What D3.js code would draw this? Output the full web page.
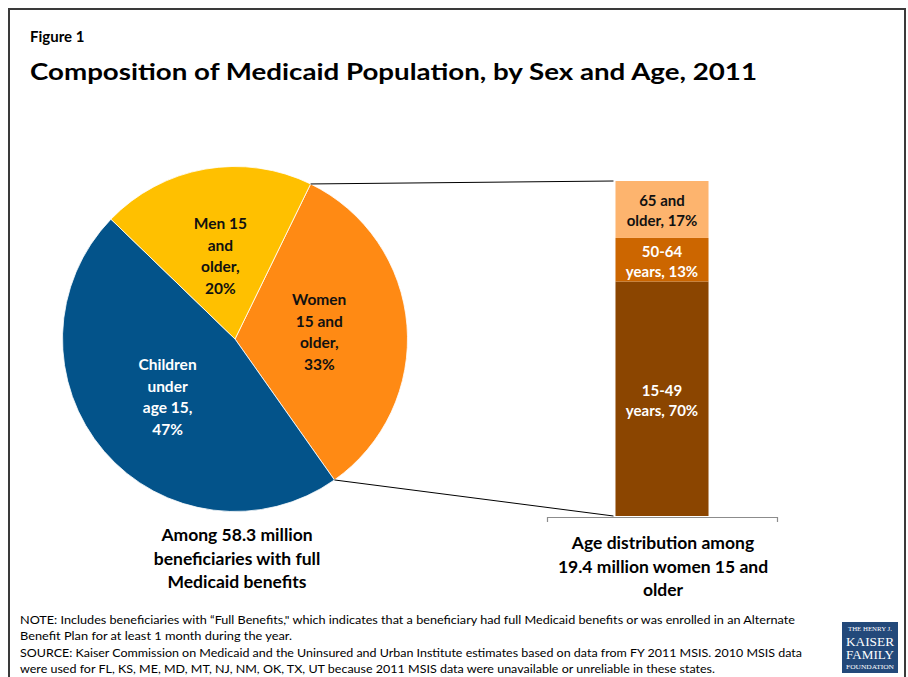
<!DOCTYPE html>
<html>
<head>
<meta charset="utf-8">
<script src="https://cdn.jsdelivr.net/npm/d3@7"></script>
<style>
  html, body { margin: 0; padding: 0; background: #fff; }
  svg { display: block; }
  text { font-family: Lato, "Open Sans", sans-serif; }
  text.serif { font-family: "Liberation Serif", "DejaVu Serif", serif; }
</style>
</head>
<body>
<svg id="chart" width="908" height="677"></svg>
<script>
// ---------- data ----------
const pieCategories = ["Women 15 and older", "Children under age 15", "Men 15 and older"];
const pieValues = [33, 47, 20];
const pieLabelLines = [
  ["Women", "15 and", "older,", "33%"],
  ["Children", "under", "age 15,", "47%"],
  ["Men 15", "and", "older,", "20%"]
];
const barCategories = ["15-49 years", "50-64 years", "65 and older"];
const barValues = [70, 13, 17];
const barLabelLines = [
  ["15-49", "years, 70%"],
  ["50-64", "years, 13%"],
  ["65 and", "older, 17%"]
];
const barGroup = ["Women 15 and older"];

const titleText = "Composition of Medicaid Population, by Sex and Age, 2011";
const figureText = "Figure 1";
const pieCaption = ["Among 58.3 million", "beneficiaries with full", "Medicaid benefits"];
const barCaption = ["Age distribution among", "19.4 million women 15 and", "older"];
const notes = [
  "NOTE:  Includes beneficiaries with \u201cFull Benefits,\" which indicates that a beneficiary had full Medicaid benefits or was enrolled in an Alternate",
  "Benefit Plan for at least 1 month during the year.",
  "SOURCE: Kaiser Commission on Medicaid and the Uninsured and Urban Institute estimates based on data from FY 2011 MSIS. 2010 MSIS data",
  "were used for FL, KS, ME, MD, MT, NJ, NM, OK, TX, UT because 2011 MSIS data were unavailable or unreliable in these states."
];
const logoText = ["THE HENRY J.", "KAISER", "FAMILY", "FOUNDATION"];

// ---------- styles ----------
const pieColors = ["#FF8A14", "#03538A", "#FFC000"];
const pieTextColors = ["#111", "#fff", "#111"];
const barColors = ["#8B4500", "#CC6600", "#FDB46E"];
const barTextColors = ["#fff", "#fff", "#111"];

const svg = d3.select("#chart");

// frame
svg.append("rect").attr("x", 9).attr("y", 9).attr("width", 896).attr("height", 690)
  .attr("fill", "none").attr("stroke", "#3a3a3a").attr("stroke-width", 2);

// headings
svg.append("text").attr("x", 30).attr("y", 42).attr("font-size", 15).attr("font-weight", 700)
  .attr("fill", "#000").text(figureText);
svg.append("text").attr("x", 30).attr("y", 80).attr("font-size", 23).attr("font-weight", 700)
  .attr("fill", "#000").attr("textLength", 727).attr("lengthAdjust", "spacingAndGlyphs").text(titleText);

// ---------- pie ----------
const cx = 235, cy = 339, r = 172.5;
const startDeg = 26;
const pie = d3.pie().sort(null).value(d => d)
  .startAngle(startDeg * Math.PI / 180)
  .endAngle(startDeg * Math.PI / 180 + 2 * Math.PI);
const arcs = pie(pieValues);
const arc = d3.arc().innerRadius(0).outerRadius(r);
const gPie = svg.append("g").attr("transform", `translate(${cx},${cy})`);
gPie.selectAll("path").data(arcs).enter().append("path")
  .attr("d", arc).attr("fill", (d, i) => pieColors[i])
  .attr("stroke", "#fff").attr("stroke-width", 0.8);

const labelRadius = [0.49, 0.515, 0.49];
arcs.forEach((a, i) => {
  const la = d3.arc().innerRadius(r * labelRadius[i]).outerRadius(r * labelRadius[i]);
  const [lx, ly] = la.centroid(a);
  const t = gPie.append("text").attr("text-anchor", "middle")
    .attr("font-size", 15.5).attr("font-weight", 700).attr("fill", pieTextColors[i]);
  const lines = pieLabelLines[i];
  const lh = 21.5;
  lines.forEach((s, k) => {
    t.append("tspan").attr("x", lx)
      .attr("y", ly + (k - (lines.length - 1) / 2) * lh + 5.5).text(s);
  });
});

// ---------- stacked bar ----------
const x = d3.scaleBand().domain(barGroup).range([547, 777]).paddingInner(0.424).paddingOuter(0.424);
const y = d3.scaleLinear().domain([0, 100]).range([516, 181]);
let cum = 0;
const stacks = barValues.map((v, i) => { const s = { i, y0: cum, y1: cum + v }; cum += v; return s; });
const gBar = svg.append("g");
gBar.selectAll("rect").data(stacks).enter().append("rect")
  .attr("x", x(barGroup[0])).attr("width", x.bandwidth())
  .attr("y", d => y(d.y1)).attr("height", d => y(d.y0) - y(d.y1))
  .attr("fill", d => barColors[d.i]);
stacks.forEach(d => {
  const my = (y(d.y0) + y(d.y1)) / 2;
  const t = gBar.append("text").attr("text-anchor", "middle").attr("font-size", 15)
    .attr("font-weight", 700).attr("fill", barTextColors[d.i]);
  barLabelLines[d.i].forEach((s, k) => {
    t.append("tspan").attr("x", x(barGroup[0]) + x.bandwidth() / 2)
      .attr("y", my + (k - 0.5) * 20 + 7).text(s);
  });
});

// axis
const axis = d3.axisBottom(x).tickSize(0).tickSizeOuter(5).tickFormat("");
const gAxis = svg.append("g").attr("transform", `translate(0,${y(0) + 1})`).call(axis);
gAxis.select(".domain").attr("stroke", "#8c8c8c").attr("stroke-width", 1.2);

// connector lines
const womenArc = arcs[0];
const p0 = [cx + r * Math.sin(womenArc.startAngle), cy - r * Math.cos(womenArc.startAngle)];
const p1 = [cx + r * Math.sin(womenArc.endAngle), cy - r * Math.cos(womenArc.endAngle)];
const bx = x(barGroup[0]) - 2;
svg.append("line").attr("x1", p0[0]).attr("y1", p0[1]).attr("x2", bx).attr("y2", y(100))
  .attr("stroke", "#000").attr("stroke-width", 1);
svg.append("line").attr("x1", p1[0]).attr("y1", p1[1]).attr("x2", bx).attr("y2", y(0))
  .attr("stroke", "#000").attr("stroke-width", 1);

// captions
const cap1 = svg.append("text").attr("text-anchor", "middle").attr("font-size", 17.5)
  .attr("font-weight", 700).attr("fill", "#000");
pieCaption.forEach((s, k) => cap1.append("tspan").attr("x", 237).attr("y", 541 + k * 23.5).text(s));
const cap2 = svg.append("text").attr("text-anchor", "middle").attr("font-size", 17.5)
  .attr("font-weight", 700).attr("fill", "#000");
barCaption.forEach((s, k) => cap2.append("tspan").attr("x", 663).attr("y", 549 + k * 23.5).text(s));

// notes
const noteWidths = [775, 272, 782, 695];
notes.forEach((s, k) => {
  svg.append("text").attr("x", 20).attr("y", 624 + k * 16.3).attr("font-size", 12)
    .attr("fill", "#000").attr("textLength", noteWidths[k]).attr("lengthAdjust", "spacingAndGlyphs").text(s);
});

// logo
const logo = svg.append("g");
logo.append("rect").attr("x", 842).attr("y", 622).attr("width", 56).attr("height", 51).attr("fill", "#23497A");
const logoSizes = [5.5, 12, 12, 5.5];
const logoY = [631, 645.5, 658.5, 668.5];
const logoW = [44, 48, 48, 48];
logoText.forEach((s, k) => {
  logo.append("text").attr("class", "serif").attr("x", 870).attr("y", logoY[k]).attr("text-anchor", "middle")
    .attr("font-size", logoSizes[k]).attr("fill", "#fff")
    .attr("textLength", logoW[k]).attr("lengthAdjust", "spacingAndGlyphs").text(s);
});
</script>
</body>
</html>
